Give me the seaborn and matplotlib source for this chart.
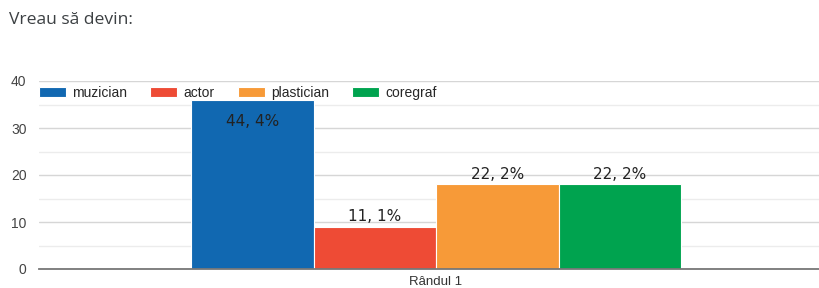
import pandas as pd
import matplotlib.pyplot as plt
import seaborn as sns
from matplotlib.ticker import MultipleLocator

# values
categorii = ['muzician', 'actor', 'plastician', 'coregraf']
valori = [36, 9, 18, 18]
etichete = ['44, 4%', '11, 1%', '22, 2%', '22, 2%']
culori = ['#1168B1', '#EE4B35', '#F79A38', '#00A34F']
rand = ['Rândul 1'] * 4
titlu = 'Vreau să devin:'

df = pd.DataFrame({'rand': rand, 'categorie': categorii, 'valoare': valori})

sns.set_style('white')
plt.rcParams['font.family'] = ['Liberation Sans', 'DejaVu Sans']

fig = plt.figure(figsize=(8.19, 2.88), dpi=100)
ax = fig.add_axes([39 / 819, 19 / 288, 780 / 819, 188 / 288])

sns.barplot(data=df, x='rand', y='valoare', hue='categorie', palette=culori,
            saturation=1, width=0.8, edgecolor='white', linewidth=0.8, ax=ax)

ax.set_xlim(-0.648, 0.625)
ax.set_ylim(0, 40)
ax.yaxis.set_major_locator(MultipleLocator(10))
ax.yaxis.set_minor_locator(MultipleLocator(5))
ax.grid(which='major', axis='y', color='#d6d6d6', linewidth=1)
ax.grid(which='minor', axis='y', color='#ececec', linewidth=1)
ax.set_axisbelow(True)
sns.despine(ax=ax, left=True, top=True, right=True)
ax.spines['bottom'].set_color('#777777')
ax.spines['bottom'].set_linewidth(1.3)
ax.tick_params(axis='y', length=0, pad=9, labelsize=10, labelcolor='#444444')
ax.tick_params(axis='x', length=0, pad=5, labelsize=9.5, labelcolor='#333333')
ax.set_xlabel('')
ax.set_ylabel('')

# percentage labels
for i, cont in enumerate(ax.containers):
    pad = -21 if i == 0 else 2
    ax.bar_label(cont, labels=[etichete[i]], padding=pad, fontsize=11,
                 family='DejaVu Sans', color='#222222')

sns.move_legend(ax, 'upper left', bbox_to_anchor=(0.0, 0.975), ncol=4,
                frameon=False, title=None, fontsize=10, handlelength=1.95,
                handleheight=0.8, handletextpad=0.45, columnspacing=1.65,
                borderpad=0, borderaxespad=0)

fig.text(9 / 819, (288 - 24) / 288, titlu, fontsize=12.6, family='Open Sans',
         color='#3c4043', va='baseline', ha='left')

fig.savefig('out.png', dpi=100)
